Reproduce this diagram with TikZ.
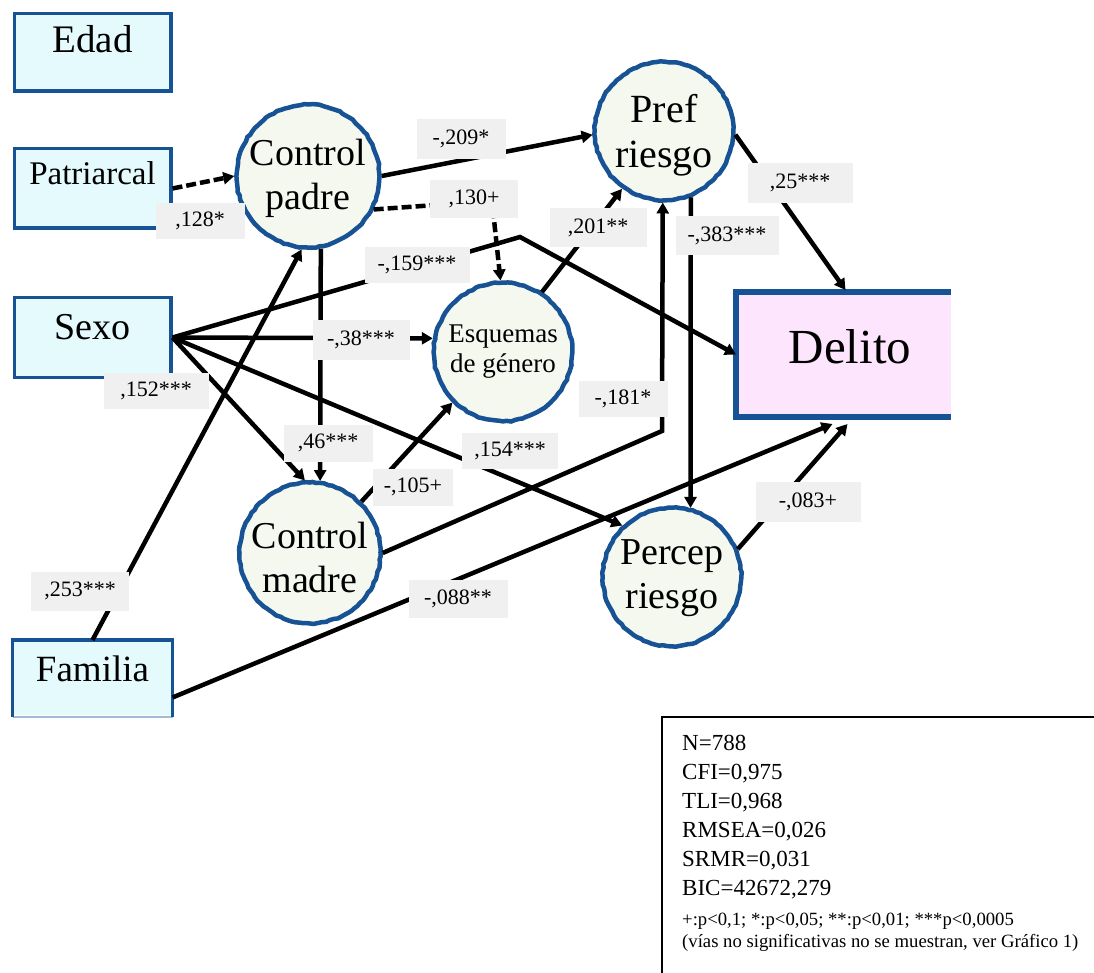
\documentclass[tikz,border=0pt]{standalone}
\usepackage{fontspec}
\setmainfont{Liberation Serif}
\newfontfamily\timesf{Liberation Serif}
\usetikzlibrary{arrows.meta,calc,decorations.pathmorphing}
\definecolor{myblue}{RGB}{22,82,148}
\definecolor{boxfill}{RGB}{229,250,253}
\definecolor{circfill}{RGB}{244,248,238}
\definecolor{delfill}{RGB}{253,230,253}
\definecolor{labfill}{RGB}{240,240,240}
\begin{document}
\begin{tikzpicture}[x=1pt,y=-1pt,
  box/.style={fill=boxfill, inner sep=0pt, outer sep=1.75pt, minimum width=156.5pt, align=center},
  boxline/.style={draw=myblue, line width=3.5pt},
  circ/.style={circle, draw=myblue, line width=4.5pt, fill=circfill, minimum size=138.5pt, inner sep=0pt, align=center, font=\fontsize{38}{44}\selectfont,
     decorate, decoration={random steps, segment length=4pt, amplitude=0.6pt}},
  lab/.style={fill=labfill, inner sep=0pt, font=\fontsize{22}{24}\selectfont},
  arr/.style={draw=black, line width=4.5pt, -{Triangle[length=11pt,width=12pt]}},
  dsh/.style={arr, dash pattern=on 10pt off 4pt},
  leg/.style={anchor=base west, inner sep=0pt, font=\timesf\fontsize{23}{26}\selectfont},
  legs/.style={anchor=base west, inner sep=0pt, font=\timesf\fontsize{18.7}{20}\selectfont}
]
\useasboundingbox (0,0) rectangle (1094,973);

% boxes
\node[box, boxline, minimum height=77.5pt, text height=39.25pt, text depth=38.25pt, font=\fontsize{39}{42}\selectfont] (edad) at (92.5,52.5) {Edad};
\node[box, boxline, minimum height=79.5pt, text height=36.25pt, text depth=43.25pt, font=\fontsize{33}{36}\selectfont] (pat) at (92.5,188.5) {Patriarcal};
\node[box, boxline, minimum height=79.5pt, text height=41.25pt, text depth=38.25pt, font=\fontsize{38}{42}\selectfont] (sexo) at (92.5,337.5) {Sexo};
\node[box, minimum height=73.5pt, text height=39.25pt, text depth=34.25pt, font=\fontsize{37}{40}\selectfont] (fam) at (92.5,678.5) {Familia};
\draw[myblue!40, line width=1.5pt] (fam.south west) -- (fam.south east);
\draw[boxline] (fam.south west) -- (fam.north west) -- (fam.north east) -- (fam.south east);

% circles
\node[circ] (cp) at (308,176) {\rule{0pt}{32pt}Control\\padre};
\node[circ] (cm) at (310,553) {\rule{0pt}{36pt}Control\\madre};
\node[circ, font=\fontsize{40}{45}\selectfont] (pr) at (664,131) {\rule{0pt}{37pt}Pref\\riesgo};
\node[circ, font=\fontsize{27}{30}\selectfont] (es) at (503,352) {Esquemas\\de género};
\node[circ, font=\fontsize{38}{44}\selectfont] (pe) at (672,577) {\rule{0pt}{28pt}Percep\\riesgo};

% Delito
\node[fill=delfill, minimum width=215pt, minimum height=125pt, inner sep=0pt, outer sep=0pt, text height=32pt, text depth=14pt, font=\fontsize{49}{52}\selectfont] (del) at (843.5,354.5) {\hspace*{13pt}Delito};
\draw[myblue, line width=6pt] (del.north east) -- (del.north west) -- (del.south west) -- (del.south east);

% corner coordinates
\coordinate (k130) at (492,201);
\coordinate (k159) at (520,237);
\coordinate (k181) at (662,431);
\coordinate (dN) at ($(del.north)+(2,-2)$);
\coordinate (dS1) at ($(del.south)+(-11,7)$);
\coordinate (dS2) at ($(del.south)+(4,7)$);
\coordinate (fOut) at ($(fam.east)+(0,19)$);

% connectors
\draw[dsh] (pat.east) -- (cp.west);
\draw[arr] (cp.east) -- (pr.183);
\draw[dsh] (cp.-27) -- (k130) -- (es.92);
\draw[arr] (sexo.east) -- (k159) -- (del.west);
\draw[arr] (sexo.east) -- (es.169);
\draw[arr] (sexo.east) -- (cm.94);
\draw[arr] (sexo.east) -- (pe.134);
\draw[arr] (cp.-80) -- (cm.82);
\draw[arr] (fam.north) -- (cp.-95);
\draw[arr] (cm.45) -- (es.225);
\draw[arr] (es.57) -- (pr.234);
\draw[arr] (cm.east) -- (k181) -- (pr.-91);
\draw[arr] (pr.-68) -- (pe.75);
\draw[arr] (pr.-3) -- (dN);
\draw[arr] (fOut) -- (dS1);
\draw[arr] (pe.23) -- (dS2);

% labels
\node[lab, minimum width=89pt, minimum height=36pt] (l128) at (200,221) {,128*};
\node[lab, minimum width=89pt, minimum height=40pt] (l209) at (461,139) {-,209*};
\node[lab, minimum width=88pt, minimum height=38pt] (l130) at (474,199) {,130+};
\node[lab, minimum width=105pt, minimum height=36pt] (l159) at (417,265) {-,159***};
\node[lab, minimum width=97pt, minimum height=39pt] (l38) at (361,340) {-,38***};
\node[lab, minimum width=105pt, minimum height=36pt] (l152) at (156,391) {,152***};
\node[lab, minimum width=89pt, minimum height=37pt] (l46) at (328,443) {,46***};
\node[lab, minimum width=80pt, minimum height=37pt] (l105) at (413,487) {-,105+};
\node[lab, minimum width=97pt, minimum height=39pt] (l201) at (598,228) {,201**};
\node[lab, minimum width=89pt, minimum height=36pt] (l181) at (623,399) {-,181*};
\node[lab, minimum width=96pt, minimum height=36pt] (l154) at (510,451) {,154***};
\node[lab, minimum width=98pt, minimum height=39pt] (l253) at (80,591) {,253***};
\node[lab, minimum width=99pt, minimum height=38pt] (l088) at (458,599) {-,088**};
\node[lab, minimum width=103pt, minimum height=39pt] (l383) at (727,236) {-,383***};
\node[lab, minimum width=105pt, minimum height=40pt] (l25) at (800,183) {,25***};
\node[lab, minimum width=105pt, minimum height=40pt] (l083) at (808,502) {-,083+};

% legend
\draw[line width=2.5pt] (662,973) -- (662,717) -- (1094,717);
\node[leg] (g1) at (682,750) {N=788};
\node[leg] (g2) at (682,779) {CFI=0,975};
\node[leg] (g3) at (682,808) {TLI=0,968};
\node[leg] (g4) at (682,837) {RMSEA=0,026};
\node[leg] (g5) at (682,866) {SRMR=0,031};
\node[leg] (g6) at (682,895) {BIC=42672,279};
\node[legs] (g7) at (682,925) {+:p<0,1; *:p<0,05; **:p<0,01; ***p<0,0005};
\node[legs] (g8) at (682,947) {(vías no significativas no se muestran, ver Gráfico 1)};
\end{tikzpicture}
\end{document}
